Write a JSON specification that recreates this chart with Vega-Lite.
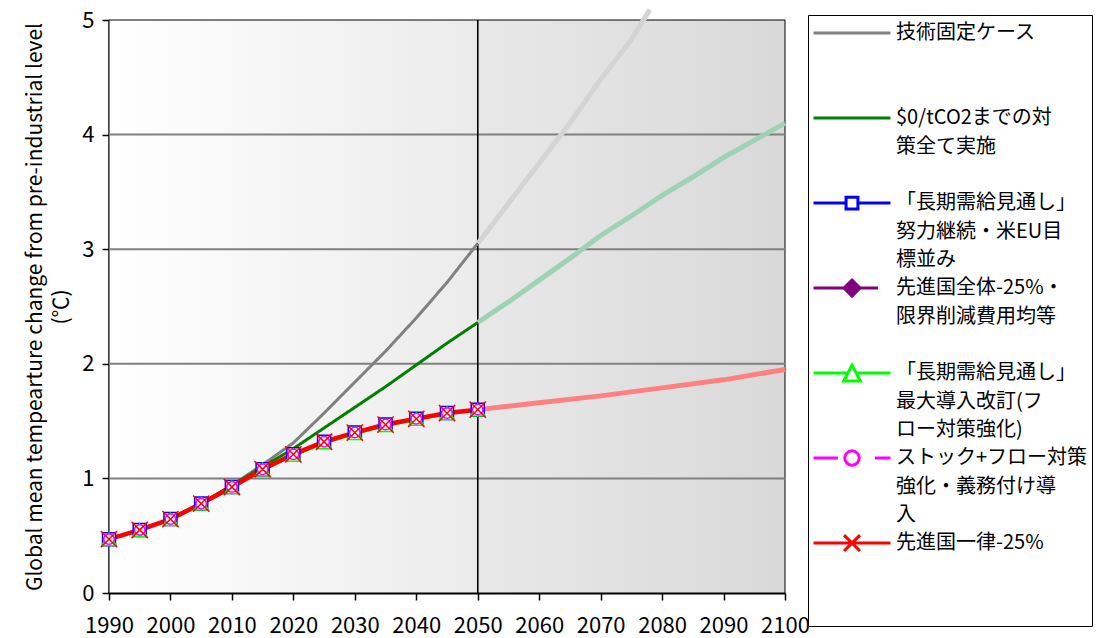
{
  "$schema": "https://vega.github.io/schema/vega-lite/v6.json",
  "width": 676,
  "height": 573,
  "autosize": "none",
  "padding": {"left": 109, "top": 20, "right": 314, "bottom": 45},
  "background": "white",
  "config": {"view": {"stroke": null}, "font": "Noto Sans CJK JP", "style": {"guide-label": {"lineHeight": 28.5}}},
  "datasets": {
    "temps": [
      {"series": "技術固定ケース", "part": "main", "year": 1990, "value": 0.47},
      {"series": "技術固定ケース", "part": "main", "year": 1995, "value": 0.55},
      {"series": "技術固定ケース", "part": "main", "year": 2000, "value": 0.645},
      {"series": "技術固定ケース", "part": "main", "year": 2005, "value": 0.78},
      {"series": "技術固定ケース", "part": "main", "year": 2010, "value": 0.94},
      {"series": "技術固定ケース", "part": "main", "year": 2015, "value": 1.12},
      {"series": "技術固定ケース", "part": "main", "year": 2020, "value": 1.31},
      {"series": "技術固定ケース", "part": "main", "year": 2025, "value": 1.57},
      {"series": "技術固定ケース", "part": "main", "year": 2030, "value": 1.84},
      {"series": "技術固定ケース", "part": "main", "year": 2035, "value": 2.11},
      {"series": "技術固定ケース", "part": "main", "year": 2040, "value": 2.4},
      {"series": "技術固定ケース", "part": "main", "year": 2045, "value": 2.71},
      {"series": "技術固定ケース", "part": "main", "year": 2050, "value": 3.05},
      {"series": "技術固定ケース", "part": "ext", "year": 2050, "value": 3.05},
      {"series": "技術固定ケース", "part": "ext", "year": 2055, "value": 3.4},
      {"series": "技術固定ケース", "part": "ext", "year": 2060, "value": 3.75},
      {"series": "技術固定ケース", "part": "ext", "year": 2065, "value": 4.1},
      {"series": "技術固定ケース", "part": "ext", "year": 2070, "value": 4.48},
      {"series": "技術固定ケース", "part": "ext", "year": 2075, "value": 4.83},
      {"series": "技術固定ケース", "part": "ext", "year": 2078, "value": 5.09},
      {"series": "$0/tCO2までの対策全て実施", "part": "main", "year": 1990, "value": 0.47},
      {"series": "$0/tCO2までの対策全て実施", "part": "main", "year": 1995, "value": 0.55},
      {"series": "$0/tCO2までの対策全て実施", "part": "main", "year": 2000, "value": 0.645},
      {"series": "$0/tCO2までの対策全て実施", "part": "main", "year": 2005, "value": 0.78},
      {"series": "$0/tCO2までの対策全て実施", "part": "main", "year": 2010, "value": 0.94},
      {"series": "$0/tCO2までの対策全て実施", "part": "main", "year": 2015, "value": 1.1},
      {"series": "$0/tCO2までの対策全て実施", "part": "main", "year": 2020, "value": 1.26},
      {"series": "$0/tCO2までの対策全て実施", "part": "main", "year": 2025, "value": 1.44},
      {"series": "$0/tCO2までの対策全て実施", "part": "main", "year": 2030, "value": 1.62},
      {"series": "$0/tCO2までの対策全て実施", "part": "main", "year": 2035, "value": 1.8},
      {"series": "$0/tCO2までの対策全て実施", "part": "main", "year": 2040, "value": 1.99},
      {"series": "$0/tCO2までの対策全て実施", "part": "main", "year": 2045, "value": 2.18},
      {"series": "$0/tCO2までの対策全て実施", "part": "main", "year": 2050, "value": 2.36},
      {"series": "$0/tCO2までの対策全て実施", "part": "ext", "year": 2050, "value": 2.36},
      {"series": "$0/tCO2までの対策全て実施", "part": "ext", "year": 2055, "value": 2.54},
      {"series": "$0/tCO2までの対策全て実施", "part": "ext", "year": 2060, "value": 2.73},
      {"series": "$0/tCO2までの対策全て実施", "part": "ext", "year": 2065, "value": 2.92},
      {"series": "$0/tCO2までの対策全て実施", "part": "ext", "year": 2070, "value": 3.12},
      {"series": "$0/tCO2までの対策全て実施", "part": "ext", "year": 2075, "value": 3.29},
      {"series": "$0/tCO2までの対策全て実施", "part": "ext", "year": 2080, "value": 3.47},
      {"series": "$0/tCO2までの対策全て実施", "part": "ext", "year": 2085, "value": 3.63},
      {"series": "$0/tCO2までの対策全て実施", "part": "ext", "year": 2090, "value": 3.8},
      {"series": "$0/tCO2までの対策全て実施", "part": "ext", "year": 2095, "value": 3.95},
      {"series": "$0/tCO2までの対策全て実施", "part": "ext", "year": 2100, "value": 4.1},
      {"series": "「長期需給見通し」努力継続・米EU目標並み", "part": "main", "year": 1990, "value": 0.47},
      {"series": "「長期需給見通し」努力継続・米EU目標並み", "part": "main", "year": 1995, "value": 0.55},
      {"series": "「長期需給見通し」努力継続・米EU目標並み", "part": "main", "year": 2000, "value": 0.645},
      {"series": "「長期需給見通し」努力継続・米EU目標並み", "part": "main", "year": 2005, "value": 0.78},
      {"series": "「長期需給見通し」努力継続・米EU目標並み", "part": "main", "year": 2010, "value": 0.925},
      {"series": "「長期需給見通し」努力継続・米EU目標並み", "part": "main", "year": 2015, "value": 1.08},
      {"series": "「長期需給見通し」努力継続・米EU目標並み", "part": "main", "year": 2020, "value": 1.21},
      {"series": "「長期需給見通し」努力継続・米EU目標並み", "part": "main", "year": 2025, "value": 1.32},
      {"series": "「長期需給見通し」努力継続・米EU目標並み", "part": "main", "year": 2030, "value": 1.4},
      {"series": "「長期需給見通し」努力継続・米EU目標並み", "part": "main", "year": 2035, "value": 1.47},
      {"series": "「長期需給見通し」努力継続・米EU目標並み", "part": "main", "year": 2040, "value": 1.52},
      {"series": "「長期需給見通し」努力継続・米EU目標並み", "part": "main", "year": 2045, "value": 1.57},
      {"series": "「長期需給見通し」努力継続・米EU目標並み", "part": "main", "year": 2050, "value": 1.6},
      {"series": "先進国全体-25%・限界削減費用均等", "part": "main", "year": 1990, "value": 0.47},
      {"series": "先進国全体-25%・限界削減費用均等", "part": "main", "year": 1995, "value": 0.55},
      {"series": "先進国全体-25%・限界削減費用均等", "part": "main", "year": 2000, "value": 0.645},
      {"series": "先進国全体-25%・限界削減費用均等", "part": "main", "year": 2005, "value": 0.78},
      {"series": "先進国全体-25%・限界削減費用均等", "part": "main", "year": 2010, "value": 0.925},
      {"series": "先進国全体-25%・限界削減費用均等", "part": "main", "year": 2015, "value": 1.08},
      {"series": "先進国全体-25%・限界削減費用均等", "part": "main", "year": 2020, "value": 1.21},
      {"series": "先進国全体-25%・限界削減費用均等", "part": "main", "year": 2025, "value": 1.32},
      {"series": "先進国全体-25%・限界削減費用均等", "part": "main", "year": 2030, "value": 1.4},
      {"series": "先進国全体-25%・限界削減費用均等", "part": "main", "year": 2035, "value": 1.47},
      {"series": "先進国全体-25%・限界削減費用均等", "part": "main", "year": 2040, "value": 1.52},
      {"series": "先進国全体-25%・限界削減費用均等", "part": "main", "year": 2045, "value": 1.57},
      {"series": "先進国全体-25%・限界削減費用均等", "part": "main", "year": 2050, "value": 1.6},
      {"series": "「長期需給見通し」最大導入改訂(フロー対策強化)", "part": "main", "year": 1990, "value": 0.465},
      {"series": "「長期需給見通し」最大導入改訂(フロー対策強化)", "part": "main", "year": 1995, "value": 0.545},
      {"series": "「長期需給見通し」最大導入改訂(フロー対策強化)", "part": "main", "year": 2000, "value": 0.64},
      {"series": "「長期需給見通し」最大導入改訂(フロー対策強化)", "part": "main", "year": 2005, "value": 0.775},
      {"series": "「長期需給見通し」最大導入改訂(フロー対策強化)", "part": "main", "year": 2010, "value": 0.92},
      {"series": "「長期需給見通し」最大導入改訂(フロー対策強化)", "part": "main", "year": 2015, "value": 1.075},
      {"series": "「長期需給見通し」最大導入改訂(フロー対策強化)", "part": "main", "year": 2020, "value": 1.2},
      {"series": "「長期需給見通し」最大導入改訂(フロー対策強化)", "part": "main", "year": 2025, "value": 1.31},
      {"series": "「長期需給見通し」最大導入改訂(フロー対策強化)", "part": "main", "year": 2030, "value": 1.39},
      {"series": "「長期需給見通し」最大導入改訂(フロー対策強化)", "part": "main", "year": 2035, "value": 1.46},
      {"series": "「長期需給見通し」最大導入改訂(フロー対策強化)", "part": "main", "year": 2040, "value": 1.515},
      {"series": "「長期需給見通し」最大導入改訂(フロー対策強化)", "part": "main", "year": 2045, "value": 1.565},
      {"series": "「長期需給見通し」最大導入改訂(フロー対策強化)", "part": "main", "year": 2050, "value": 1.595},
      {"series": "ストック+フロー対策強化・義務付け導入", "part": "main", "year": 1990, "value": 0.47},
      {"series": "ストック+フロー対策強化・義務付け導入", "part": "main", "year": 1995, "value": 0.55},
      {"series": "ストック+フロー対策強化・義務付け導入", "part": "main", "year": 2000, "value": 0.645},
      {"series": "ストック+フロー対策強化・義務付け導入", "part": "main", "year": 2005, "value": 0.78},
      {"series": "ストック+フロー対策強化・義務付け導入", "part": "main", "year": 2010, "value": 0.925},
      {"series": "ストック+フロー対策強化・義務付け導入", "part": "main", "year": 2015, "value": 1.08},
      {"series": "ストック+フロー対策強化・義務付け導入", "part": "main", "year": 2020, "value": 1.21},
      {"series": "ストック+フロー対策強化・義務付け導入", "part": "main", "year": 2025, "value": 1.32},
      {"series": "ストック+フロー対策強化・義務付け導入", "part": "main", "year": 2030, "value": 1.4},
      {"series": "ストック+フロー対策強化・義務付け導入", "part": "main", "year": 2035, "value": 1.47},
      {"series": "ストック+フロー対策強化・義務付け導入", "part": "main", "year": 2040, "value": 1.52},
      {"series": "ストック+フロー対策強化・義務付け導入", "part": "main", "year": 2045, "value": 1.57},
      {"series": "ストック+フロー対策強化・義務付け導入", "part": "main", "year": 2050, "value": 1.6},
      {"series": "先進国一律-25%", "part": "main", "year": 1990, "value": 0.47},
      {"series": "先進国一律-25%", "part": "main", "year": 1995, "value": 0.55},
      {"series": "先進国一律-25%", "part": "main", "year": 2000, "value": 0.645},
      {"series": "先進国一律-25%", "part": "main", "year": 2005, "value": 0.78},
      {"series": "先進国一律-25%", "part": "main", "year": 2010, "value": 0.925},
      {"series": "先進国一律-25%", "part": "main", "year": 2015, "value": 1.08},
      {"series": "先進国一律-25%", "part": "main", "year": 2020, "value": 1.21},
      {"series": "先進国一律-25%", "part": "main", "year": 2025, "value": 1.32},
      {"series": "先進国一律-25%", "part": "main", "year": 2030, "value": 1.4},
      {"series": "先進国一律-25%", "part": "main", "year": 2035, "value": 1.47},
      {"series": "先進国一律-25%", "part": "main", "year": 2040, "value": 1.52},
      {"series": "先進国一律-25%", "part": "main", "year": 2045, "value": 1.57},
      {"series": "先進国一律-25%", "part": "main", "year": 2050, "value": 1.6},
      {"series": "先進国一律-25%", "part": "ext", "year": 2050, "value": 1.6},
      {"series": "先進国一律-25%", "part": "ext", "year": 2060, "value": 1.66},
      {"series": "先進国一律-25%", "part": "ext", "year": 2070, "value": 1.72},
      {"series": "先進国一律-25%", "part": "ext", "year": 2080, "value": 1.79},
      {"series": "先進国一律-25%", "part": "ext", "year": 2090, "value": 1.86},
      {"series": "先進国一律-25%", "part": "ext", "year": 2100, "value": 1.95}
    ]
  },
  "layer": [
    {
      "data": {"values": [{"from": 1990, "to": 2050, "low": 0, "high": 5}]},
      "mark": {"type": "rect", "fill": {"gradient": "linear", "x1": 0, "y1": 0, "x2": 1, "y2": 0, "stops": [{"offset": 0, "color": "#ffffff"}, {"offset": 1, "color": "#ebebeb"}]}, "stroke": "#000000", "strokeWidth": 1},
      "encoding": {
        "x": {"field": "from", "type": "quantitative", "scale": {"domain": [1990, 2100], "nice": false, "zero": false},
          "axis": {"values": [1990, 2000, 2010, 2020, 2030, 2040, 2050, 2060, 2070, 2080, 2090, 2100], "format": "d", "title": null, "labelFontSize": 22, "labelFont": "Noto Sans CJK JP", "labelColor": "#000000", "labelPadding": 15, "tickSize": 7, "tickColor": "#000000", "tickWidth": 1.5, "domainColor": "#000000", "domainWidth": 2, "grid": false, "labelFlush": false, "labelOverlap": false}},
        "x2": {"field": "to"},
        "y": {"field": "low", "type": "quantitative", "scale": {"domain": [0, 5], "nice": false},
          "axis": {"values": [0, 0.5, 1, 1.5, 2, 2.5, 3, 3.5, 4, 4.5, 5], "format": "d", "labelExpr": "datum.value % 1 === 0 ? datum.label : ''", "title": ["Global mean tempearture change from pre-industrial level", "(℃)"], "titleFont": "Noto Sans CJK JP", "titleFontSize": 21, "titleFontWeight": "normal", "titleColor": "#000000", "titleLineHeight": 26, "titlePadding": 10, "labelFontSize": 22, "labelFont": "Noto Sans CJK JP", "labelColor": "#000000", "labelPadding": 8, "tickSize": 7, "tickColor": "#000000", "tickWidth": 1.5, "domainColor": "#000000", "domainWidth": 2, "grid": false}},
        "y2": {"field": "high"}
      }
    },
    {
      "data": {"values": [{"from": 2050, "to": 2100, "low": 0, "high": 5}]},
      "mark": {"type": "rect", "fill": {"gradient": "linear", "x1": 0, "y1": 0, "x2": 1, "y2": 0, "stops": [{"offset": 0, "color": "#e8e8e8"}, {"offset": 1, "color": "#d9d9d9"}]}, "stroke": "#000000", "strokeWidth": 1},
      "encoding": {
        "x": {"field": "from", "type": "quantitative"},
        "x2": {"field": "to"},
        "y": {"field": "low", "type": "quantitative"},
        "y2": {"field": "high"}
      }
    },
    {
      "data": {"values": [{"level": 1}, {"level": 2}, {"level": 3}, {"level": 4}]},
      "mark": {"type": "rule", "color": "#808080", "strokeWidth": 2},
      "encoding": {"y": {"field": "level", "type": "quantitative"}}
    },
    {
      "data": {"values": [{"year": 2050}]},
      "mark": {"type": "rule", "color": "#000000", "strokeWidth": 1.5},
      "encoding": {"x": {"field": "year", "type": "quantitative"}}
    },
    {
      "data": {"name": "temps"},
      "transform": [{"filter": "datum.part === 'ext'"}],
      "mark": {"type": "line", "strokeWidth": 5},
      "encoding": {
        "x": {"field": "year", "type": "quantitative"},
        "y": {"field": "value", "type": "quantitative"},
        "stroke": {"field": "series", "type": "nominal", "scale": {"domain": ["技術固定ケース", "$0/tCO2までの対策全て実施", "先進国一律-25%"], "range": ["#d4d4d4", "#9dd3b3", "#ff8080"]}, "legend": null}
      }
    },
    {
      "data": {"name": "temps"},
      "transform": [{"filter": "datum.part === 'main' && datum.series !== '先進国一律-25%'"}],
      "mark": {"type": "line", "strokeWidth": 3},
      "encoding": {
        "x": {"field": "year", "type": "quantitative"},
        "y": {"field": "value", "type": "quantitative"},
        "color": {"field": "series", "type": "nominal", "scale": {"domain": ["技術固定ケース", "$0/tCO2までの対策全て実施", "「長期需給見通し」努力継続・米EU目標並み", "先進国全体-25%・限界削減費用均等", "「長期需給見通し」最大導入改訂(フロー対策強化)", "ストック+フロー対策強化・義務付け導入", "先進国一律-25%"], "range": ["#808080", "#008000", "#0000ff", "#800080", "#00ff00", "#ff00ff", "#ff0000"]}, "legend": null},
        "strokeDash": {"field": "series", "type": "nominal", "scale": {"domain": ["技術固定ケース", "$0/tCO2までの対策全て実施", "「長期需給見通し」努力継続・米EU目標並み", "先進国全体-25%・限界削減費用均等", "「長期需給見通し」最大導入改訂(フロー対策強化)", "ストック+フロー対策強化・義務付け導入", "先進国一律-25%"], "range": [[1, 0], [1, 0], [1, 0], [1, 0], [1, 0], [8, 4], [1, 0]]}, "legend": null}
      }
    },
    {
      "data": {"name": "temps"},
      "transform": [{"filter": "datum.part === 'main' && datum.series === '先進国一律-25%'"}],
      "mark": {"type": "line", "strokeWidth": 4.5},
      "encoding": {
        "x": {"field": "year", "type": "quantitative"},
        "y": {"field": "value", "type": "quantitative"},
        "color": {"field": "series", "type": "nominal", "legend": null}
      }
    },
    {
      "data": {"name": "temps"},
      "transform": [{"filter": "datum.part === 'main' && datum.series !== '技術固定ケース' && datum.series !== '$0/tCO2までの対策全て実施'"}],
      "mark": {"type": "point", "filled": false, "size": 169, "strokeWidth": 1.5, "opacity": 1},
      "encoding": {
        "x": {"field": "year", "type": "quantitative"},
        "y": {"field": "value", "type": "quantitative"},
        "color": {"field": "series", "type": "nominal", "legend": null},
        "shape": {"field": "series", "type": "nominal", "scale": {"domain": ["「長期需給見通し」努力継続・米EU目標並み", "先進国全体-25%・限界削減費用均等", "「長期需給見通し」最大導入改訂(フロー対策強化)", "ストック+フロー対策強化・義務付け導入", "先進国一律-25%"], "range": ["M-1,-1H1V1H-1Z", "M0,-0.95L0.95,0L0,0.95L-0.95,0Z", "M0,-1L1.1,0.9H-1.1Z", "M-0.8,0A0.8,0.8,0,1,0,0.8,0A0.8,0.8,0,1,0,-0.8,0Z", "M-1.25,-1.25L1.25,1.25M-1.25,1.25L1.25,-1.25"]}, "legend": null},
        "fill": {"field": "series", "type": "nominal", "scale": {"domain": ["「長期需給見通し」努力継続・米EU目標並み", "先進国全体-25%・限界削減費用均等", "「長期需給見通し」最大導入改訂(フロー対策強化)", "ストック+フロー対策強化・義務付け導入", "先進国一律-25%"], "range": ["#ffffff", "#800080", "#ffffff", "#ffffff", "transparent"]}, "legend": null}
      }
    },
    {
      "data": {"name": "temps"},
      "transform": [{"filter": "datum.part === 'main' && datum.year === 1990"}],
      "mark": {"type": "point", "filled": true, "opacity": 0,
        "fill": {"expr": "['transparent', 'transparent', '#ffffff', '#800080', '#ffffff', '#ffffff', 'transparent'][datum.index]"},
        "stroke": {"expr": "['#808080', '#008000', '#0000ff', '#800080', '#00ff00', '#ff00ff', '#ff0000'][datum.index]"},
        "strokeWidth": 3},
      "encoding": {
        "x": {"field": "year", "type": "quantitative"},
        "y": {"field": "value", "type": "quantitative"},
        "shape": {"field": "series", "type": "nominal",
          "scale": {"domain": ["技術固定ケース", "$0/tCO2までの対策全て実施", "「長期需給見通し」努力継続・米EU目標並み", "先進国全体-25%・限界削減費用均等", "「長期需給見通し」最大導入改訂(フロー対策強化)", "ストック+フロー対策強化・義務付け導入", "先進国一律-25%"],
            "range": [
              "M-2.08,-0.32H2.08",
              "M-2.08,-0.32H2.08",
              "M-2.08,-0.32H-0.32M0.32,-0.32H2.08M-0.32,-0.64H0.32V0H-0.32Z",
              "M-2.08,-0.32H-0.43M0.43,-0.32H1.41M-0.43,-0.32L0,-0.75L0.43,-0.32L0,0.11Z",
              "M-2.08,-0.32H-0.22M0.22,-0.32H2.08M0,-0.75L0.45,0.11H-0.45Z",
              "M-2.08,-0.32H-0.76M-0.39,-0.32A0.39,0.39,0,1,0,0.39,-0.32A0.39,0.39,0,1,0,-0.39,-0.32ZM1.24,-0.32H2.08",
              "M-2.08,-0.32H2.08M-0.43,-0.75L0.43,0.11M-0.43,0.11L0.43,-0.75"
            ]},
          "legend": {
            "orient": "none", "legendX": 699, "legendY": -5,
            "title": " ", "titleOrient": "bottom", "titleFontSize": 10, "titlePadding": 2,
            "padding": 4, "strokeColor": "#000000", "fillColor": "#ffffff",
            "symbolSize": 1369, "symbolStrokeWidth": 3, "symbolOpacity": 1, "symbolOffset": 20,
            "labelFont": "Noto Sans CJK JP", "labelFontSize": 20, "labelColor": "#000000", "labelLimit": 400, "labelOffset": 24, "labelBaseline": "alphabetic", "rowPadding": 4,
            "labelExpr": "[['技術固定ケース', ' ', ' '], ['$0/tCO2までの対', '策全て実施', ' '], ['「長期需給見通し」', '努力継続・米EU目', '標並み'], ['先進国全体-25%・', '限界削減費用均等', ' '], ['「長期需給見通し」', '最大導入改訂(フ', 'ロー対策強化)'], ['ストック+フロー対策', '強化・義務付け導', '入'], ['先進国一律-25%', ' ', ' ']][datum.index]"
          }
        }
      }
    }
  ],
  "resolve": {"scale": {"shape": "independent"}}
}
